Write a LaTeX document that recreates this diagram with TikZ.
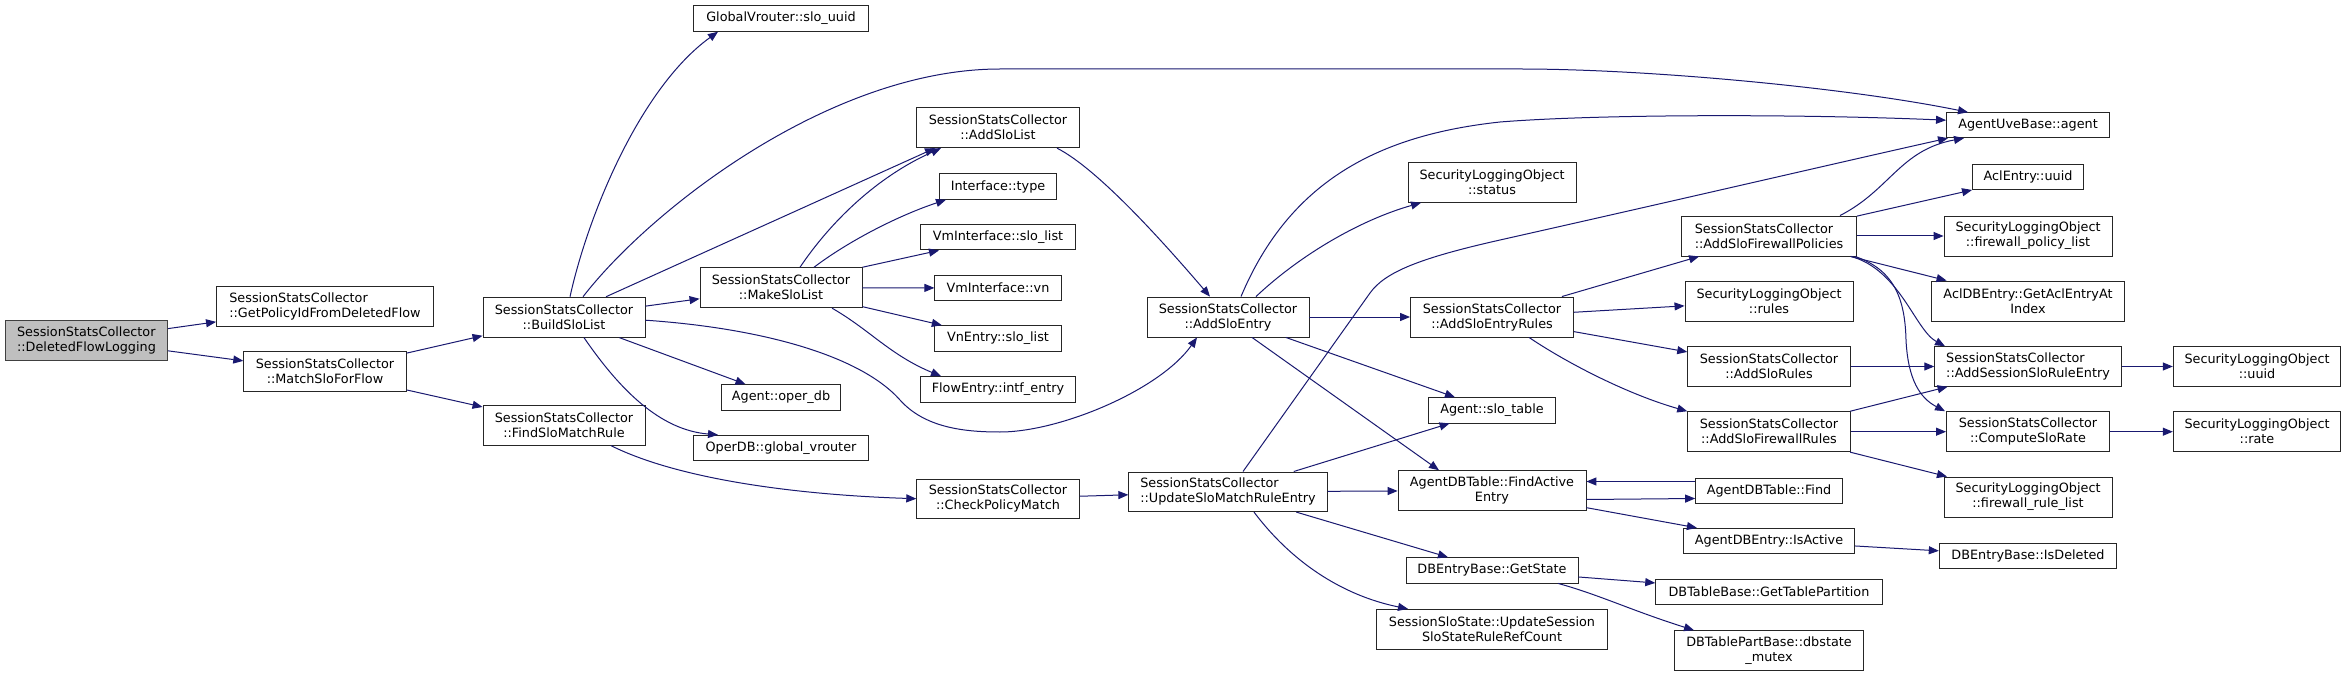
\documentclass[tikz,border=0pt]{standalone}
\usepackage{fontspec}
\setmainfont{DejaVu Sans}
\usetikzlibrary{arrows.meta}
\definecolor{edgeblue}{RGB}{25,25,112}
\definecolor{rootgray}{RGB}{191,191,191}
\newsavebox\tlboxa \newsavebox\tlboxb \newlength\tlwd
\newcommand\twol[2]{\sbox\tlboxa{#1}\sbox\tlboxb{#2}%
 \setlength\tlwd{\wd\tlboxa}\ifdim\wd\tlboxb>\tlwd\setlength\tlwd{\wd\tlboxb}\fi
 \vbox{\hbox to\tlwd{\usebox\tlboxa\hfil}\hbox to\tlwd{\hfil\usebox\tlboxb\hfil}}}
\tikzset{
 nd/.style={draw=black!85, fill=white, line width=0.9pt, inner sep=0pt, font=\fontsize{12.8}{15}\selectfont},
 rootnd/.style={nd, fill=rootgray, draw=black!75},
 ed/.style={draw=edgeblue, line width=1pt, -{Triangle[length=10pt,width=8pt]}},
}
\begin{document}
\begin{tikzpicture}[x=1pt,y=-1pt]
\fill[white] (0,0) rectangle (2347,676);
\useasboundingbox (0,0) rectangle (2347,676);
% column 1-3
\node[rootnd, minimum width=162.5, minimum height=40] (dfl) at (86.5,340) {\twol{SessionStatsCollector}{::DeletedFlowLogging}};
\node[nd, minimum width=217, minimum height=40] (gp) at (325,306.7) {\twol{SessionStatsCollector}{::GetPolicyIdFromDeletedFlow}};
\node[nd, minimum width=162.5, minimum height=40] (msf) at (325,371.7) {\twol{SessionStatsCollector}{::MatchSloForFlow}};
\node[nd, minimum width=162, minimum height=40] (bsl) at (564,317.2) {\twol{SessionStatsCollector}{::BuildSloList}};
\node[nd, minimum width=162, minimum height=40] (fsm) at (564,425.2) {\twol{SessionStatsCollector}{::FindSloMatchRule}};
% column 4
\node[nd, minimum width=174.5, minimum height=25.6] (gv) at (781,18.5) {GlobalVrouter::slo\_uuid};
\node[nd, minimum width=162, minimum height=40] (mk) at (781,287.7) {\twol{SessionStatsCollector}{::MakeSloList}};
\node[nd, minimum width=119.6, minimum height=25.3] (od) at (781,397.3) {Agent::oper\_db};
\node[nd, minimum width=174.5, minimum height=25.4] (gvr) at (781,448) {OperDB::global\_vrouter};
% column 5
\node[nd, minimum width=162.5, minimum height=40] (asl) at (998,127.7) {\twol{SessionStatsCollector}{::AddSloList}};
\node[nd, minimum width=117.3, minimum height=25.6] (it) at (998,186.5) {Interface::type};
\node[nd, minimum width=155.8, minimum height=25.3] (vsl) at (998,237.3) {VmInterface::slo\_list};
\node[nd, minimum width=126.3, minimum height=25.4] (vn) at (998,288) {VmInterface::vn};
\node[nd, minimum width=126.3, minimum height=25.3] (ve) at (998,338.3) {VnEntry::slo\_list};
\node[nd, minimum width=155.8, minimum height=25.3] (fe) at (998,389.3) {FlowEntry::intf\_entry};
\node[nd, minimum width=162.5, minimum height=39.5] (cpm) at (998,498.7) {\twol{SessionStatsCollector}{::CheckPolicyMatch}};
% column 6
\node[nd, minimum width=162, minimum height=40] (ase) at (1228,317) {\twol{SessionStatsCollector}{::AddSloEntry}};
\node[nd, minimum width=198.4, minimum height=39.7] (usm) at (1228,491.8) {\twol{SessionStatsCollector}{::UpdateSloMatchRuleEntry}};
% column 7
\node[nd, minimum width=168, minimum height=39.6] (status) at (1492,182.5) {\twol{SecurityLoggingObject}{::status}};
\node[nd, minimum width=163, minimum height=40] (aser) at (1492,317) {\twol{SessionStatsCollector}{::AddSloEntryRules}};
\node[nd, minimum width=126.4, minimum height=25.3] (st) at (1492,410.3) {Agent::slo\_table};
\node[nd, minimum width=187.9, minimum height=39.6] (fae) at (1492,490.5) {\twol{AgentDBTable::FindActive}{Entry}};
\node[nd, minimum width=171.9, minimum height=25.3] (gs) at (1492,570.3) {DBEntryBase::GetState};
\node[nd, minimum width=230.2, minimum height=39.7] (sss) at (1492,629.2) {\twol{SessionSloState::UpdateSession}{SloStateRuleRefCount}};
% column 8
\node[nd, minimum width=175.1, minimum height=40] (afp) at (1769,236) {\twol{SessionStatsCollector}{::AddSloFirewallPolicies}};
\node[nd, minimum width=168, minimum height=40] (rules) at (1769,301) {\twol{SecurityLoggingObject}{::rules}};
\node[nd, minimum width=162.6, minimum height=39.6] (asr) at (1769,366.5) {\twol{SessionStatsCollector}{::AddSloRules}};
\node[nd, minimum width=162.6, minimum height=40] (afr) at (1769,431.7) {\twol{SessionStatsCollector}{::AddSloFirewallRules}};
\node[nd, minimum width=146.8, minimum height=25] (find) at (1769,490.5) {AgentDBTable::Find};
\node[nd, minimum width=171.5, minimum height=25.4] (ia) at (1769,541) {AgentDBEntry::IsActive};
\node[nd, minimum width=226.6, minimum height=25.3] (gtp) at (1769,591.7) {DBTableBase::GetTablePartition};
\node[nd, minimum width=188.8, minimum height=39.6] (dbm) at (1769,650.5) {\twol{DBTablePartBase::dbstate}{\_mutex}};
% column 9
\node[nd, minimum width=163, minimum height=25] (aub) at (2028,125.2) {AgentUveBase::agent};
\node[nd, minimum width=111, minimum height=25.3] (aclu) at (2028,177.3) {AclEntry::uuid};
\node[nd, minimum width=168, minimum height=40] (fpl) at (2028,236) {\twol{SecurityLoggingObject}{::firewall\_policy\_list}};
\node[nd, minimum width=193, minimum height=40] (gaei) at (2028,301) {\twol{AclDBEntry::GetAclEntryAt}{Index}};
\node[nd, minimum width=186.5, minimum height=39.6] (asre) at (2028,366.5) {\twol{SessionStatsCollector}{::AddSessionSloRuleEntry}};
\node[nd, minimum width=163, minimum height=40] (crs) at (2028,431.7) {\twol{SessionStatsCollector}{::ComputeSloRate}};
\node[nd, minimum width=168, minimum height=40] (frl) at (2028,497) {\twol{SecurityLoggingObject}{::firewall\_rule\_list}};
\node[nd, minimum width=177.5, minimum height=25.4] (isd) at (2028,556) {DBEntryBase::IsDeleted};
% column 10
\node[nd, minimum width=167.5, minimum height=39.6] (slu) at (2257,366.5) {\twol{SecurityLoggingObject}{::uuid}};
\node[nd, minimum width=167.5, minimum height=40] (slr) at (2257,431.7) {\twol{SecurityLoggingObject}{::rate}};
% edges
\draw[ed] (dfl) -- (gp);
\draw[ed] (dfl) -- (msf);
\draw[ed] (msf) -- (bsl);
\draw[ed] (msf) -- (fsm);
\draw[ed] ([xshift=6]bsl.north) .. controls (588,215) and (640,88) .. ([xshift=-63]gv.south);
\draw[ed] ([xshift=19]bsl.north) .. controls (650,210) and (830,69) .. (1000,69) -- (1520,69) .. controls (1650,69) and (1850,88) .. ([xshift=-60]aub.north);
\draw[ed] ([xshift=42]bsl.north) -- ([xshift=-63]asl.south);
\draw[ed] (bsl) -- (mk);
\draw[ed] ([yshift=-3]bsl.east) .. controls (760,328) and (860,355) .. (900,400) .. controls (925,428) and (965,432) .. (1000,432) .. controls (1060,432) and (1160,390) .. ([xshift=-31]ase.south);
\draw[ed] (bsl) -- (od);
\draw[ed] ([xshift=20]bsl.south) .. controls (620,390) and (660,430) .. ([xshift=-63]gvr.north);
\draw[ed] ([xshift=19]mk.north) .. controls (825,230) and (870,180) .. ([xshift=-57]asl.south);
\draw[ed] ([xshift=33]mk.north) .. controls (850,240) and (900,215) .. ([xshift=-52]it.south);
\draw[ed] (mk.north east) -- ([xshift=-59]vsl.south);
\draw[ed] (mk) -- (vn);
\draw[ed] (mk) -- (ve);
\draw[ed] ([xshift=51]mk.south) .. controls (870,330) and (890,355) .. ([xshift=-57]fe.north);
\draw[ed] ([xshift=59]asl.south) .. controls (1100,170) and (1170,250) .. ([xshift=-18]ase.north);
\draw[ed] ([xshift=47]fsm.south) .. controls (680,480) and (800,495) .. (cpm.west);
\draw[ed] (cpm) -- (usm);
\draw[ed] ([xshift=13]ase.north) .. controls (1290,180) and (1380,135) .. (1500,122) .. controls (1600,114) and (1800,114) .. ([yshift=5]aub.west);
\draw[ed] ([xshift=28]ase.north) .. controls (1300,255) and (1360,220) .. ([xshift=-71]status.south);
\draw[ed] (ase) -- (aser);
\draw[ed] (ase) -- (st);
\draw[ed] ([xshift=24]ase.south) -- ([xshift=-53]fae.north);
\draw[ed] ([xshift=15]usm.north) -- (1370,293) .. controls (1385,272) and (1420,258) .. (1500,240) .. controls (1700,195) and (1850,160) .. ([xshift=-80]aub.south);
\draw[ed] (usm) -- (st);
\draw[ed] (usm) -- (fae);
\draw[ed] (usm) -- (gs);
\draw[ed] ([xshift=26]usm.south) .. controls (1290,560) and (1340,595) .. ([xshift=-84]sss.north);
\draw[ed] (aser) -- (afp);
\draw[ed] (aser) -- (rules);
\draw[ed] (aser) -- (asr);
\draw[ed] ([xshift=37]aser.south) .. controls (1570,365) and (1630,395) .. (afr.north west);
\draw[ed] ([xshift=71]afp.north) .. controls (1890,190) and (1900,150) .. ([xshift=-64]aub.south);
\draw[ed] (afp) -- (aclu);
\draw[ed] (afp) -- (fpl);
\draw[ed] (afp) -- (gaei);
\draw[ed] ([xshift=-6]afp.south east) .. controls (1900,270) and (1915,330) .. ([xshift=-83]asre.north);
\draw[ed] ([xshift=-2]afp.south east) .. controls (1895,270) and (1905,300) .. (1906,340) .. controls (1908,380) and (1920,398) .. ([xshift=-83]crs.north);
\draw[ed] (asr) -- (asre);
\draw[ed] (afr) -- (asre);
\draw[ed] (afr) -- (crs);
\draw[ed] (afr) -- (frl);
\draw[ed] (asre) -- (slu);
\draw[ed] (crs) -- (slr);
\draw[ed] ([yshift=-9]fae.east) -- ([yshift=-8]find.west);
\draw[ed] ([yshift=9]find.west) -- ([yshift=9]fae.east);
\draw[ed] (fae) -- (ia);
\draw[ed] (ia) -- (isd);
\draw[ed] (gs) -- (gtp);
\draw[ed] ([xshift=66]gs.south) .. controls (1600,595) and (1630,610) .. ([xshift=-75]dbm.north);
\end{tikzpicture}
\end{document}
